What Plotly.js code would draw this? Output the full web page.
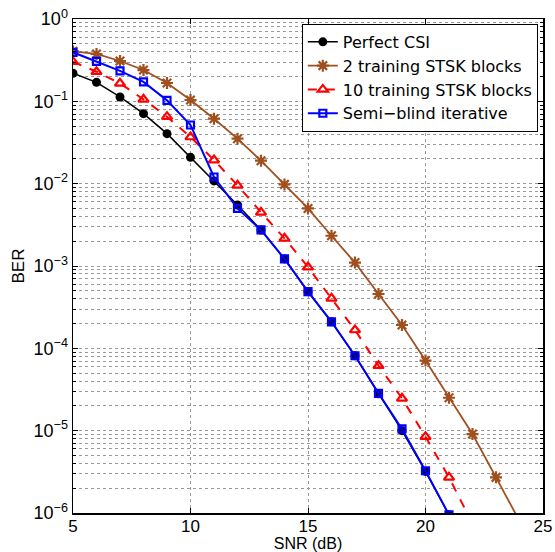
<!DOCTYPE html>
<html><head><meta charset="utf-8">
<script src="https://cdn.plot.ly/plotly-3.0.1.min.js"></script>
<style>html,body{margin:0;padding:0;background:#fff}#chart{width:555px;height:552px}</style>
</head><body><div id="chart"></div>
<script>
const snr = [5,6,7,8,9,10,11,12,13,14,15,16,17,18,19,20,21,22,23,24];
const perfectCSI = [0.219,0.170,0.113,0.0708,0.0405,0.0209,0.0108,0.0055,0.00274,0.00122,4.88e-4,2.10e-4,8.1e-5,2.8e-5,1.0e-5,3.2e-6,9.5e-7];
const train2 = [0.405,0.376,0.309,0.240,0.167,0.1038,0.0615,0.0352,0.0190,0.0098,0.0050,0.00233,0.00110,4.57e-4,1.92e-4,7.1e-5,2.51e-5,9.1e-6,2.71e-6,8.0e-7];
const train10 = [0.303,0.229,0.1655,0.1057,0.0651,0.0369,0.01937,0.00955,0.00449,0.00217,9.7e-4,4.05e-4,1.67e-4,6.15e-5,2.47e-5,8.45e-6,2.71e-6,7.4e-7];
const semiBlind = [0.394,0.306,0.234,0.172,0.1028,0.0516,0.01205,0.0050,0.00274,0.00122,4.88e-4,2.10e-4,8.13e-5,2.84e-5,1.05e-5,3.26e-6,9.5e-7];
const seriesNames = ["Perfect CSI","2 training STSK blocks","10 training STSK blocks","Semi\u2212blind iterative"];
const xTicks = [5,10,15,20,25];
const yTickVals = [1e-6,1e-5,1e-4,1e-3,1e-2,1e-1,1];
const yTickText = ["10<sup>\u22126</sup>","10<sup>\u22125</sup>","10<sup>\u22124</sup>","10<sup>\u22123</sup>","10<sup>\u22122</sup>","10<sup>\u22121</sup>","10<sup>0</sup>"];

const minorVals = [];
for (let e = -6; e < 0; e++) for (let m = 2; m <= 9; m++) minorVals.push(m * Math.pow(10, e));

const brown = "#a0501e";
const traces = [
  {x: snr.slice(0, perfectCSI.length), y: perfectCSI, name: seriesNames[0], mode: "lines+markers",
   line: {color: "#000", width: 1.5}, marker: {symbol: "circle", size: 9, color: "#000"}},
  {x: snr.slice(0, train2.length), y: train2, name: seriesNames[1], mode: "lines+markers",
   line: {color: brown, width: 1.8}, marker: {symbol: "asterisk-open", size: 10, line: {color: brown, width: 2.2}}},
  {x: snr.slice(0, train10.length), y: train10, name: seriesNames[2], mode: "lines+markers",
   line: {color: "#ff0000", width: 2, dash: "dash"}, marker: {symbol: "triangle-up-open", size: 9, line: {color: "#ff0000", width: 2.2}}},
  {x: snr.slice(0, semiBlind.length), y: semiBlind, name: seriesNames[3], mode: "lines+markers",
   line: {color: "#0000ff", width: 2}, marker: {symbol: "square-open", size: 7, line: {color: "#0000ff", width: 2.2}}}
];

const layout = {
  width: 555, height: 552,
  margin: {l: 73, r: 12, t: 19, b: 39},
  paper_bgcolor: "#fff", plot_bgcolor: "#fff",
  font: {family: "Liberation Sans, Arial, sans-serif", size: 17, color: "#000"},
  showlegend: true,
  legend: {x: 0.989, y: 0.99, xanchor: "right", yanchor: "top", bgcolor: "#fff",
           bordercolor: "#000", borderwidth: 1, font: {family: "DejaVu Sans, sans-serif", size: 16}, tracegroupgap: 0},
  xaxis: {type: "linear", range: [5, 25], tickmode: "array", tickvals: xTicks,
          ticks: "inside", ticklen: 5, tickcolor: "#000", showline: true, linecolor: "#000", linewidth: 1.5,
          mirror: "ticks", showgrid: true, gridcolor: "#999", griddash: "dot", gridwidth: 1, zeroline: false,
          tickfont: {size: 17}, ticklabelstandoff: -3,
          title: {text: "SNR (dB)", standoff: 4, font: {size: 16}}},
  yaxis: {type: "log", range: [-6, 0], tickmode: "array", tickvals: yTickVals, ticktext: yTickText,
          ticks: "inside", ticklen: 5, tickcolor: "#000", showline: true, linecolor: "#000", linewidth: 1.5,
          mirror: "ticks", showgrid: true, gridcolor: "#999", griddash: "dot", gridwidth: 1, zeroline: false,
          tickfont: {size: 18},
          minor: {tickmode: "array", tickvals: minorVals, ticks: "inside", ticklen: 3, tickcolor: "#000",
                  showgrid: true, gridcolor: "#999", griddash: "dot", gridwidth: 1},
          title: {text: "BER", standoff: 4, font: {size: 17}}}
};
Plotly.newPlot("chart", traces, layout, {displayModeBar: false, staticPlot: true});
</script></body></html>
